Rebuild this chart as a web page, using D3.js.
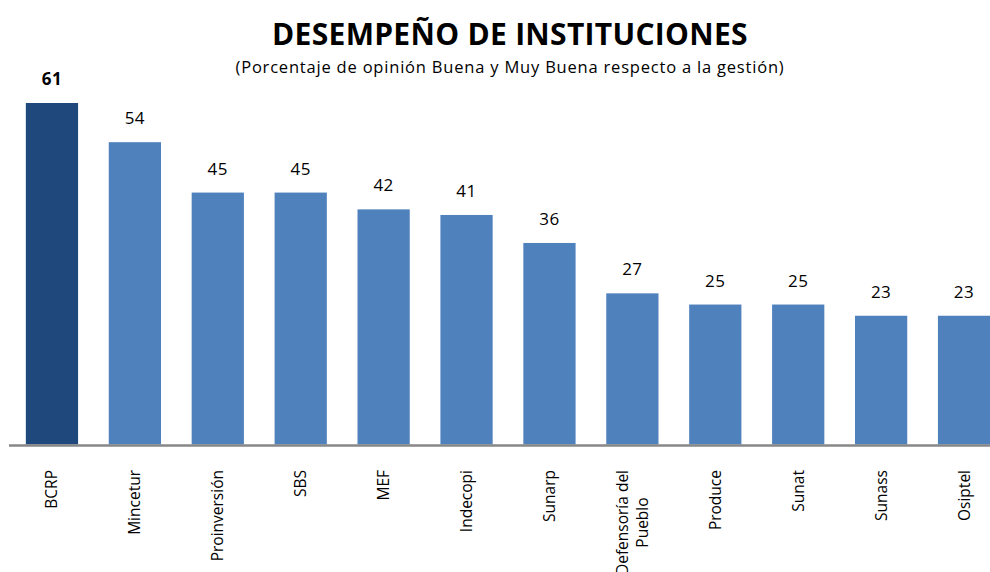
<!DOCTYPE html>
<html><head><meta charset="utf-8">
<script src="https://cdn.jsdelivr.net/npm/d3@7"></script>
<style>body{margin:0;background:#fff}svg{display:block}</style>
</head><body><div id="c"></div>
<script>
const categories = ["BCRP","Mincetur","Proinversión","SBS","MEF","Indecopi","Sunarp","Defensoría del\nPueblo","Produce","Sunat","Sunass","Osiptel"];
const values = [61,54,45,45,42,41,36,27,25,25,23,23];
const titleText = "DESEMPEÑO DE INSTITUCIONES";
const subtitleText = "(Porcentaje de opinión Buena y Muy Buena respecto a la gestión)";

const W = 990, H = 572;
const font = "'Open Sans', 'DejaVu Sans', sans-serif";
const svg = d3.select("#c").append("svg").attr("width", W).attr("height", H);

const baseY = 444.5;
const x = d3.scaleBand().domain(categories).range([10.5, 1005.5]).paddingInner(0.37).paddingOuter(0.185);
const y = d3.scaleLinear().domain([0, 61]).range([baseY, 103]);

svg.append("text").attr("x", 510).attr("y", 45).attr("text-anchor", "middle")
  .attr("font-family", font).attr("font-weight", "bold").attr("font-size", 30)
  .attr("letter-spacing", 0.3).attr("fill", "#000").text(titleText);
svg.append("text").attr("x", 510).attr("y", 73).attr("text-anchor", "middle")
  .attr("font-family", font).attr("font-size", 16.5).attr("letter-spacing", 0.8)
  .attr("fill", "#000").text(subtitleText);

svg.selectAll("rect.bar").data(categories).join("rect").attr("class","bar")
  .attr("x", d => x(d)).attr("width", x.bandwidth())
  .attr("y", (d,i) => y(values[i])).attr("height", (d,i) => baseY - y(values[i]))
  .attr("fill", (d,i) => i === 0 ? "#1F497D" : "#4F81BD");

svg.selectAll("text.val").data(categories).join("text").attr("class","val")
  .attr("x", d => x(d) + x.bandwidth()/2)
  .attr("y", (d,i) => y(values[i]) - 18)
  .attr("text-anchor", "middle").attr("font-family", font)
  .attr("font-size", 17).attr("font-weight", (d,i) => i === 0 ? "bold" : "normal")
  .attr("letter-spacing", 0.5)
  .attr("fill", "#000").text((d,i) => values[i]);

svg.append("line").attr("x1", 9).attr("x2", W).attr("y1", baseY + 1).attr("y2", baseY + 1)
  .attr("stroke", "#878787").attr("stroke-width", 2.5);

const labTop = 470;
categories.forEach(c => {
  const lines = c.split("\n");
  const cx = x(c) + x.bandwidth()/2;
  const g = svg.append("g");
  const lh = 20;
  const texts = lines.map((ln, k) => g.append("text")
    .attr("font-family", font).attr("font-size", 15.5).attr("fill", "#000").text(ln));
  const maxW = d3.max(texts, t => t.node().getComputedTextLength());
  const n = lines.length;
  texts.forEach((t, k) => {
    const off = (k - (n - 1) / 2) * lh;
    if (n === 1) {
      t.attr("text-anchor", "end").attr("transform", `translate(${cx + 5.5},${labTop}) rotate(-90)`);
    } else {
      t.attr("text-anchor", "middle").attr("transform", `translate(${cx + off + 5.5},${labTop + maxW/2}) rotate(-90)`);
    }
  });
});
</script>
</body></html>
